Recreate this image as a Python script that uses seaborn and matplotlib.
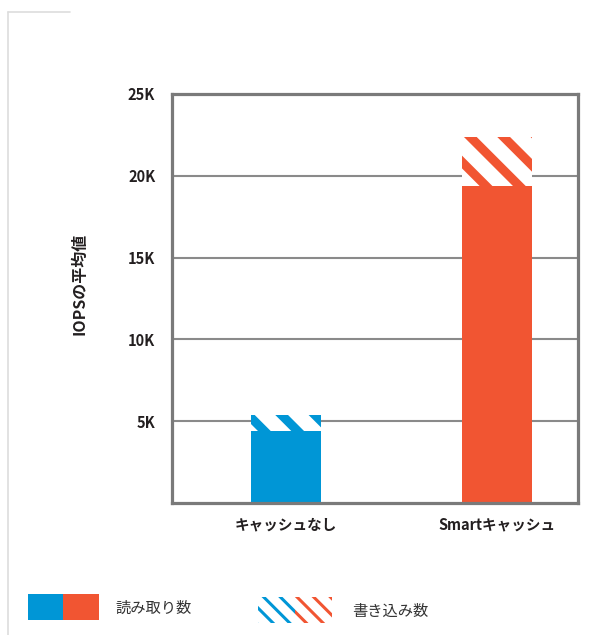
import matplotlib
matplotlib.use("Agg")
import matplotlib.pyplot as plt
from matplotlib.patches import Rectangle
from matplotlib.lines import Line2D
import seaborn as sns
import pandas as pd

# ---- data ----
categories = ["キャッシュなし", "Smartキャッシュ"]
reads = [4400, 19400]
writes = [1000, 3000]
colors = ["#0096D6", "#F15532"]
ytick_values = [5000, 10000, 15000, 20000, 25000]
ytick_labels = ["5K", "10K", "15K", "20K", "25K"]
ylabel = "IOPSの平均値"
legend_read = "読み取り数"
legend_write = "書き込み数"

totals = [r + w for r, w in zip(reads, writes)]
df = pd.DataFrame({"cat": categories, "read": reads, "total": totals})
palette = dict(zip(categories, colors))

sns.set_style("white")
plt.rcParams["font.family"] = ["Noto Sans CJK JP", "DejaVu Sans"]
plt.rcParams["hatch.linewidth"] = 6.5

fig = plt.figure(figsize=(6.0, 6.35), dpi=100)
ax = fig.add_axes([172 / 600, 1 - 503 / 635, 406 / 600, 409 / 635])

# hatched (write) part: total bars, white face with coloured stripes
sns.barplot(data=df, x="cat", y="total", hue="cat", palette=palette,
            width=0.33, errorbar=None, legend=False, ax=ax, saturation=1)
n_tot = len(ax.patches)
for p, c in zip(ax.patches[:n_tot], colors):
    p.set_facecolor("white")
    p.set_edgecolor(c)
    p.set_hatch("\\")
    p.set_linewidth(0)

# solid (read) part on top
sns.barplot(data=df, x="cat", y="read", hue="cat", palette=palette,
            width=0.33, errorbar=None, legend=False, ax=ax, saturation=1)
for p in ax.patches[n_tot:]:
    p.set_linewidth(0)

ax.set_xlim(-0.54, 1.385)
ax.set_ylim(0, 25000)
ax.set_yticks(ytick_values)
ax.set_yticklabels(ytick_labels)
ax.grid(axis="y", color="#8a8a8a", linewidth=1.5)
ax.set_axisbelow(True)
for s in ax.spines.values():
    s.set_visible(True)
    s.set_color("#7a7a7a")
    s.set_linewidth(2.3)

ax.tick_params(axis="y", length=4, width=1.5, color="#8a8a8a", pad=8,
               labelsize=10.5, labelcolor="#231f20")
ax.tick_params(axis="x", length=0, pad=10, labelsize=10.5, labelcolor="#231f20")
for t in ax.get_yticklabels() + ax.get_xticklabels():
    t.set_fontweight("bold")

ax.set_xlabel("")
ax.set_ylabel(ylabel, fontsize=11.5, fontweight="bold", color="#231f20")
ax.yaxis.set_label_coords(-0.209, 0.535)

# ---- legend & frame decoration (pixel coords overlay) ----
lax = fig.add_axes([0, 0, 1, 1], zorder=-1)
lax.set_xlim(0, 600)
lax.set_ylim(635, 0)
lax.axis("off")
lax.add_line(Line2D([8, 8], [12, 635], color="#dddddd", lw=1.2))
lax.add_line(Line2D([8, 70], [12, 12], color="#dddddd", lw=1.2))

lax.add_patch(Rectangle((28, 594), 35, 26, facecolor=colors[0], lw=0))
lax.add_patch(Rectangle((63, 594), 36, 26, facecolor=colors[1], lw=0))
lax.text(115, 608, legend_read, fontsize=11, va="center", ha="left", color="#333333")

for x0, c in [(258, colors[0]), (295, colors[1])]:
    r = Rectangle((x0, 597), 37, 26, facecolor="white", edgecolor=c,
                  hatch="\\\\", lw=0)
    if hasattr(r, "set_hatch_linewidth"):
        r.set_hatch_linewidth(2.2)
    lax.add_patch(r)
lax.text(352, 611, legend_write, fontsize=11, va="center", ha="left", color="#333333")

fig.savefig("out.png", dpi=100, facecolor="white")
